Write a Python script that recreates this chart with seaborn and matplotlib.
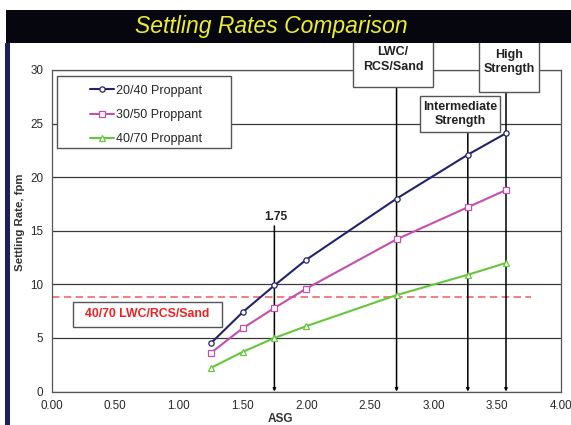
import matplotlib
matplotlib.use("Agg")
import matplotlib.pyplot as plt
from matplotlib.patches import Rectangle
import numpy as np
import pandas as pd
import seaborn as sns

# ---------------- data ----------------
asg = [1.25, 1.50, 1.75, 2.00, 2.71, 3.27, 3.57]
rate_2040 = [4.5, 7.4, 9.9, 12.3, 18.0, 22.1, 24.1]
rate_3050 = [3.6, 5.9, 7.8, 9.6, 14.2, 17.2, 18.8]
rate_4070 = [2.2, 3.7, 5.0, 6.1, 9.0, 10.9, 12.0]
series_names = ["20/40 Proppant", "30/50 Proppant", "40/70 Proppant"]
lwc_4070_rate = 8.8
ref_asg_175 = 1.75
ref_asg_lwc = 2.71
ref_asg_int = 3.27
ref_asg_high = 3.57
x_ticks = [0.0, 0.5, 1.0, 1.5, 2.0, 2.5, 3.0, 3.5, 4.0]
y_ticks = [0, 5, 10, 15, 20, 25, 30]

df = pd.DataFrame({
    "ASG": asg * 3,
    "Rate": rate_2040 + rate_3050 + rate_4070,
    "Series": [series_names[0]] * len(asg) + [series_names[1]] * len(asg) + [series_names[2]] * len(asg),
})

# ---------------- style ----------------
sns.set_style("white")
plt.rcParams["font.family"] = ["Liberation Sans", "DejaVu Sans"]

colors = {series_names[0]: "#22236e", series_names[1]: "#c54fae", series_names[2]: "#66c63c"}
marks = {series_names[0]: "o", series_names[1]: "s", series_names[2]: "^"}

fig = plt.figure(figsize=(5.71, 4.25), dpi=100)
ax = fig.add_axes([0.0905, 0.0786, 0.8915, 0.7567])

sns.lineplot(data=df, x="ASG", y="Rate", hue="Series", style="Series",
             palette=colors, markers=marks, dashes=False, lw=1.5,
             markersize=3.8, legend=False, ax=ax, zorder=3)
for line, name in zip(ax.lines, series_names):
    line.set_markerfacecolor("white")
    line.set_markeredgecolor(line.get_color())
    line.set_markeredgewidth(0.9)
    line.set_label(name)

ax.set_xlim(0, 4)
ax.set_ylim(0, 30)
ax.set_xticks(x_ticks)
ax.set_xticklabels([f"{v:.2f}" for v in x_ticks])
ax.set_yticks(y_ticks)
ax.set_yticklabels([str(v) for v in y_ticks])
ax.yaxis.grid(True, color="#3a3a3a", lw=0.9)
ax.xaxis.grid(False)
ax.set_axisbelow(True)
for s in ax.spines.values():
    s.set_color("#555555")
    s.set_linewidth(0.9)
ax.tick_params(axis="both", direction="out", length=4, width=0.8, color="#555555",
               labelsize=8.4, labelcolor="#2a2a2a", pad=2)

ax.set_xlabel("ASG", fontsize=8.5, fontweight="bold", color="#333333")
ax.set_ylabel("Settling Rate, fpm", fontsize=8.2, fontweight="bold", color="#333333")
ax.xaxis.set_label_coords(0.4485, -0.067)
ax.yaxis.set_label_coords(-0.0525, 0.528)

# legend with separate frame
leg_frame = Rectangle((0.0104, 0.7565), 0.342, 0.2245, transform=ax.transAxes,
                      facecolor="white", edgecolor="#555555", lw=1.0, zorder=4)
ax.add_patch(leg_frame)
leg = ax.legend(loc="upper left", bbox_to_anchor=(0.056, 0.985), frameon=False,
                fontsize=9, handlelength=1.9, handletextpad=0.15, labelspacing=0.98,
                borderpad=0.3)
leg.set_zorder(5)

# dashed red line and label
ax.hlines(lwc_4070_rate, 0, 3.77, colors="#f06a6a", linestyles=(0, (4.5, 2.6)), lw=1.2, zorder=2)
ax.add_patch(Rectangle((0.165, 6.05), 1.171, 2.34, facecolor="white", edgecolor="#555555",
                       lw=1.0, zorder=4))
ax.text(0.75, 7.22, "40/70 LWC/RCS/Sand", color="#ee2222", fontsize=8.8, fontweight="bold",
        ha="center", va="center", zorder=5)

# vertical reference arrows
def varrow(x, ytop):
    ax.annotate("", xy=(x, 0), xytext=(x, ytop),
                arrowprops=dict(arrowstyle="-|>", mutation_scale=4, lw=1.1, color="black",
                                shrinkA=0, shrinkB=0), annotation_clip=False, zorder=2)

varrow(ref_asg_175, 15.45)
ax.text(ref_asg_175 + 0.01, 16.33, "1.75", fontsize=8.6, fontweight="bold", color="#222222",
        ha="center", va="center")
varrow(ref_asg_lwc, 28.45)
varrow(ref_asg_int, 24.21)
varrow(ref_asg_high, 27.99)

def label_box(x0, x1, y0, y1, txt):
    ax.add_patch(Rectangle((x0, y0), x1 - x0, y1 - y0, facecolor="white", edgecolor="#555555",
                           lw=1.0, zorder=4, clip_on=False))
    ax.text((x0 + x1) / 2, (y0 + y1) / 2, txt, fontsize=9, fontweight="bold", color="#222222",
            ha="center", va="center", linespacing=1.3, zorder=5, clip_on=False)

label_box(2.368, 2.997, 28.45, 33.5, "LWC/\nRCS/Sand")
label_box(3.36, 3.83, 27.99, 33.5, "High\nStrength")
label_box(2.894, 3.523, 24.21, 27.58, "Intermediate\nStrength")

# title band and left stripe
fig.add_artist(Rectangle((0.0105, 0.8988), 0.99, 0.0777, transform=fig.transFigure,
                         facecolor="#06060f", edgecolor="none", zorder=5))
fig.add_artist(Rectangle((5 / 571, 0), 5 / 571, 0.8988, transform=fig.transFigure,
                         facecolor="#1c1e66", edgecolor="none", zorder=5))
fig.text(0.476, 0.9376, "Settling Rates Comparison", fontsize=16.5, style="italic",
         color="#eded2a", ha="center", va="center", zorder=6)

fig.savefig("out.png", dpi=100)
